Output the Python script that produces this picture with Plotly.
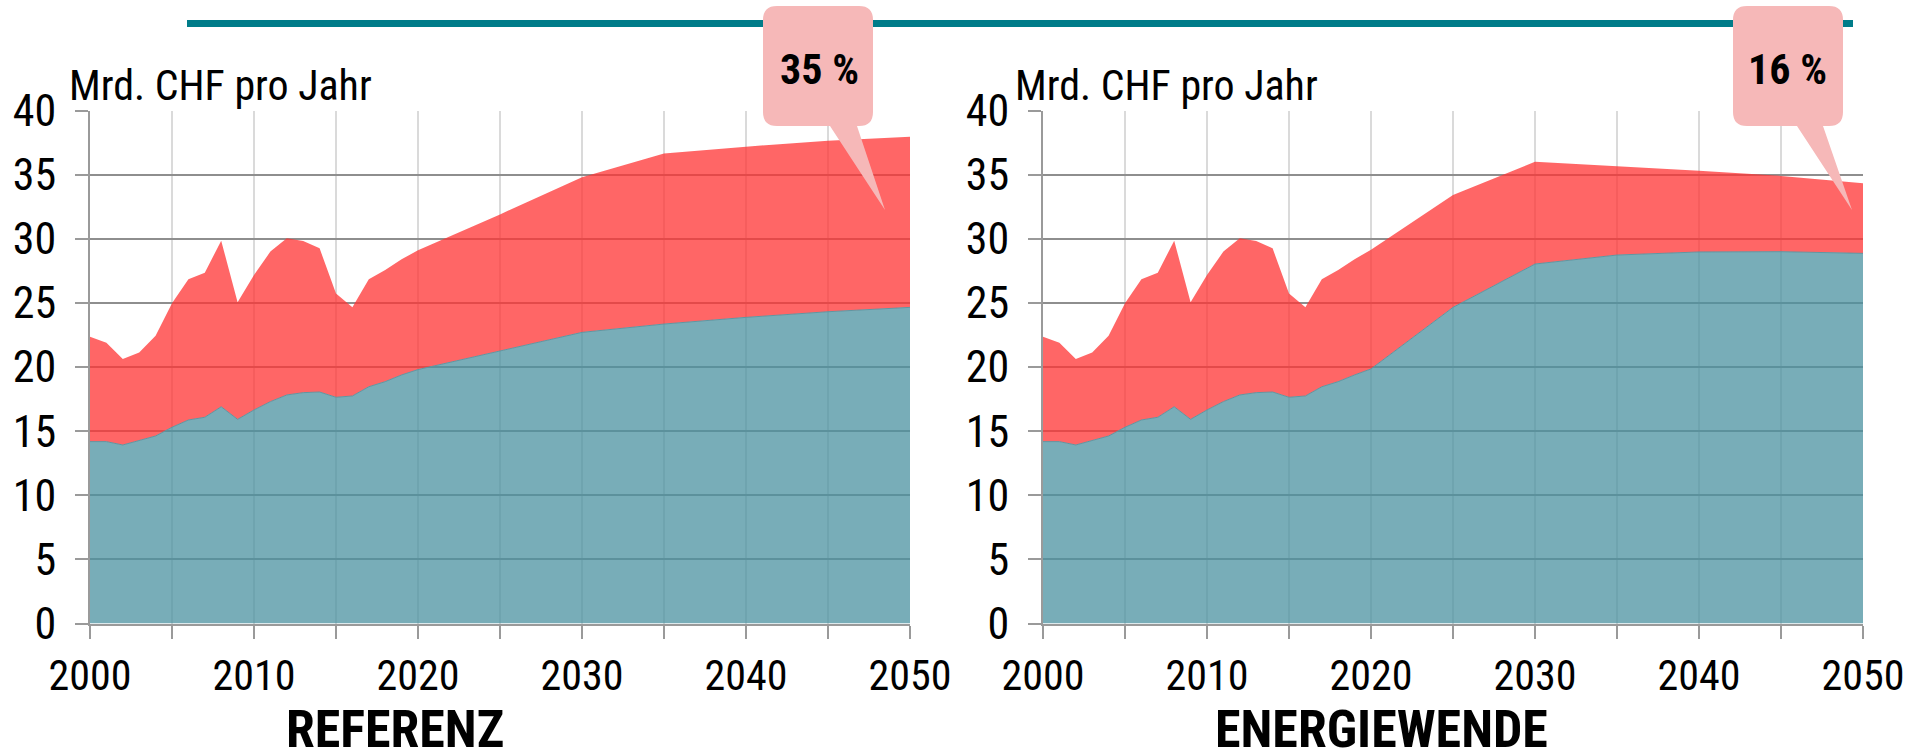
import plotly.graph_objects as go

# ---------------- data ----------------
years = [2000, 2001, 2002, 2003, 2004, 2005, 2006, 2007, 2008, 2009,
         2010, 2011, 2012, 2013, 2014, 2015, 2016, 2017, 2018, 2019,
         2020, 2025, 2030, 2035, 2040, 2045, 2050]

# REFERENZ scenario
ref_total = [22.36, 21.90, 20.62, 21.14, 22.44, 24.97, 26.84, 27.35, 29.85, 25.04,
             27.17, 29.00, 30.03, 29.82, 29.25, 25.74, 24.65, 26.84, 27.56, 28.40,
             29.10, 31.90, 34.80, 36.65, 37.18, 37.65, 37.96]
ref_base = [14.18, 14.18, 13.92, 14.26, 14.62, 15.30, 15.87, 16.08, 16.90, 15.92,
            16.65, 17.30, 17.82, 18.00, 18.05, 17.64, 17.74, 18.46, 18.86, 19.38,
            19.80, 21.25, 22.70, 23.35, 23.87, 24.31, 24.65]

# ENERGIEWENDE scenario
ew_total = [22.36, 21.90, 20.62, 21.14, 22.44, 24.97, 26.84, 27.35, 29.85, 25.04,
            27.17, 29.00, 30.03, 29.82, 29.25, 25.74, 24.65, 26.84, 27.56, 28.40,
            29.15, 33.41, 36.00, 35.67, 35.31, 34.90, 34.32]
ew_base = [14.18, 14.18, 13.92, 14.26, 14.62, 15.30, 15.87, 16.08, 16.90, 15.92,
           16.65, 17.30, 17.82, 18.00, 18.05, 17.64, 17.74, 18.46, 18.86, 19.38,
           19.85, 24.65, 28.03, 28.73, 28.97, 28.99, 28.86]

x_tickvals = [2000, 2005, 2010, 2015, 2020, 2025, 2030, 2035, 2040, 2045, 2050]
x_ticktext = ["2000", "", "2010", "", "2020", "", "2030", "", "2040", "", "2050"]
y_tickvals = [0, 5, 10, 15, 20, 25, 30, 35, 40]

panel_titles = ["REFERENZ", "ENERGIEWENDE"]
callout_texts = ["35 %", "16 %"]
unit_label = "Mrd. CHF pro Jahr"

# ---------------- styling ----------------
W, H = 1909, 756
FONT = "Liberation Sans Narrow, Arial Narrow, Roboto Condensed, Liberation Sans, sans-serif"
TEAL_FILL = "rgba(75,146,160,0.75)"
TEAL_LINE = "#5f96a2"
RED_FILL = "rgba(255,51,51,0.75)"
CALLOUT = "#F6B8B8"
BAR = "#007C89"


def px(x):
    return x / W


def py(y):
    return 1 - y / H


fig = go.Figure()

series = [(ref_base, ref_total), (ew_base, ew_total)]
for i, (base, total) in enumerate(series):
    xa = "x" if i == 0 else "x2"
    ya = "y" if i == 0 else "y2"
    fig.add_trace(go.Scatter(
        x=years, y=base, xaxis=xa, yaxis=ya, mode="lines",
        line=dict(color=TEAL_LINE, width=1), fill="tozeroy",
        fillcolor=TEAL_FILL, showlegend=False, hoverinfo="skip"))
    fig.add_trace(go.Scatter(
        x=years, y=total, xaxis=xa, yaxis=ya, mode="lines",
        line=dict(color="rgba(255,51,51,0)", width=0), fill="tonexty",
        fillcolor=RED_FILL, showlegend=False, hoverinfo="skip"))

xaxis_style = dict(
    range=[2000, 2050], tickmode="array", tickvals=x_tickvals, ticktext=x_ticktext,
    showgrid=True, gridcolor="#dadada", gridwidth=2,
    showline=True, linecolor="#9a9a9a", linewidth=2,
    ticks="outside", ticklen=13, tickwidth=2, tickcolor="#9a9a9a",
    tickfont=dict(family=FONT, size=42, color="black"),
    ticklabelstandoff=1, zeroline=False, fixedrange=True, automargin=False)
yaxis_style = dict(
    range=[0, 40], tickmode="array", tickvals=y_tickvals,
    showgrid=True, gridcolor="#8e8e8e", gridwidth=2,
    showline=True, linecolor="#9a9a9a", linewidth=2,
    ticks="outside", ticklen=13, tickwidth=2, tickcolor="#9a9a9a",
    tickfont=dict(family=FONT, size=44, color="black"),
    ticklabelstandoff=10, zeroline=False, fixedrange=True, automargin=False)

y_dom = [py(623.5), py(110.5)]
fig.update_layout(
    template="none",
    width=W, height=H, margin=dict(l=0, r=0, t=0, b=0, pad=0, autoexpand=False),
    paper_bgcolor="white", plot_bgcolor="white", showlegend=False,
    xaxis=dict(domain=[px(90), px(910)], anchor="y", **xaxis_style),
    yaxis=dict(domain=y_dom, anchor="x", **yaxis_style),
    xaxis2=dict(domain=[px(1043), px(1863)], anchor="y2", **xaxis_style),
    yaxis2=dict(domain=y_dom, anchor="x2", **yaxis_style),
)

shapes = []
# teal header bar
shapes.append(dict(type="line", xref="paper", yref="paper",
                   x0=px(187), x1=px(1853), y0=py(23.5), y1=py(23.5),
                   line=dict(color=BAR, width=7), layer="above"))


def callout_path(x0, x1, y0, y1, r, xa, xb, tx, ty):
    pts = []
    pts.append("M %f,%f" % (px(x0 + r), py(y0)))
    pts.append("L %f,%f" % (px(x1 - r), py(y0)))
    pts.append("Q %f,%f %f,%f" % (px(x1), py(y0), px(x1), py(y0 + r)))
    pts.append("L %f,%f" % (px(x1), py(y1 - r)))
    pts.append("Q %f,%f %f,%f" % (px(x1), py(y1), px(x1 - r), py(y1)))
    pts.append("L %f,%f" % (px(xb), py(y1)))
    pts.append("L %f,%f" % (px(tx), py(ty)))
    pts.append("L %f,%f" % (px(xa), py(y1)))
    pts.append("L %f,%f" % (px(x0 + r), py(y1)))
    pts.append("Q %f,%f %f,%f" % (px(x0), py(y1), px(x0), py(y1 - r)))
    pts.append("L %f,%f" % (px(x0), py(y0 + r)))
    pts.append("Q %f,%f %f,%f" % (px(x0), py(y0), px(x0 + r), py(y0)))
    pts.append("Z")
    return " ".join(pts)


callout_geo = [
    (763, 873, 6, 126, 14, 830, 857, 885, 210),
    (1733, 1843, 6, 126, 14, 1797, 1823, 1852, 210),
]
for g in callout_geo:
    shapes.append(dict(type="path", xref="paper", yref="paper",
                       path=callout_path(*g), fillcolor=CALLOUT,
                       line=dict(width=0), layer="above"))

annotations = []
unit_x = [67, 1013]
title_x = [395, 1381]
callout_center_x = [819, 1787]
for i in range(2):
    annotations.append(dict(
        text=unit_label, xref="paper", yref="paper",
        x=px(unit_x[i]), y=py(86), xanchor="left", yanchor="middle",
        showarrow=False, font=dict(family=FONT, size=42, color="black")))
    annotations.append(dict(
        text=panel_titles[i], xref="paper", yref="paper",
        x=px(title_x[i]), y=py(729), xanchor="center", yanchor="middle",
        height=50, valign="middle", showarrow=False,
        font=dict(family=FONT, size=52, color="black", weight="bold")))
    annotations.append(dict(
        text=callout_texts[i], xref="paper", yref="paper",
        x=px(callout_center_x[i]), y=py(69), xanchor="center", yanchor="middle",
        showarrow=False,
        font=dict(family=FONT, size=42, color="black", weight="bold")))

fig.update_layout(shapes=shapes, annotations=annotations)

fig.write_html("out.html",
               config={"displayModeBar": False},
               post_script="document.body.style.margin='0px';"
                           "document.body.style.overflow='hidden';")
